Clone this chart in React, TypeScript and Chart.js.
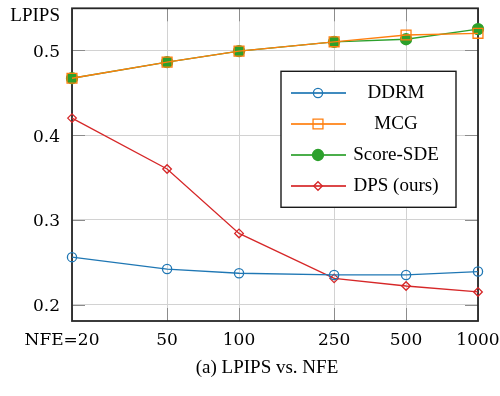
import React, { useEffect, useRef } from 'react';
import { Chart, registerables } from 'chart.js';
import { drawPoint } from 'chart.js/helpers';

Chart.register(...registerables);

const nfe = [20, 50, 100, 250, 500, 1000];
const xTickLabels = ['NFE=20', '50', '100', '250', '500', '1000'];
const yTicks = [0.2, 0.3, 0.4, 0.5];
const yTickLabels = ['0.2', '0.3', '0.4', '0.5'];
const ddrm = [0.256, 0.242, 0.237, 0.235, 0.235, 0.239];
const mcg = [0.467, 0.486, 0.499, 0.51, 0.518, 0.52];
const scoreSde = [0.467, 0.486, 0.499, 0.51, 0.513, 0.525];
const dps = [0.42, 0.36, 0.284, 0.231, 0.222, 0.215];
const seriesNames = ['DDRM', 'MCG', 'Score-SDE', 'DPS (ours)'];
const yLabel = 'LPIPS';
const caption = '(a) LPIPS vs. NFE';

const SERIF = '"Liberation Serif", "Times New Roman", serif';
const TICKFONT = '"DejaVu Serif", serif';

const toPts = (arr: number[]) => nfe.map((x, i) => ({ x, y: arr[i] }));

const decorPlugin = {
  id: 'decor',
  beforeDatasetsDraw(chart: any) {
    const { ctx, chartArea: a, scales } = chart;
    ctx.save();
    // inner tick marks
    ctx.strokeStyle = '#8c8c8c';
    ctx.lineWidth = 1;
    const tl = 13;
    yTicks.forEach((v) => {
      const y = Math.round(scales.y.getPixelForValue(v)) + 0.5;
      ctx.beginPath();
      ctx.moveTo(a.left, y);
      ctx.lineTo(a.left + tl, y);
      ctx.moveTo(a.right - tl, y);
      ctx.lineTo(a.right, y);
      ctx.stroke();
    });
    nfe.forEach((v) => {
      const x = Math.round(scales.x.getPixelForValue(v)) + 0.5;
      ctx.beginPath();
      ctx.moveTo(x, a.top);
      ctx.lineTo(x, a.top + tl);
      ctx.moveTo(x, a.bottom - tl);
      ctx.lineTo(x, a.bottom);
      ctx.stroke();
    });
    // frame
    ctx.strokeStyle = '#262626';
    ctx.lineWidth = 1.8;
    ctx.strokeRect(a.left, a.top, a.right - a.left, a.bottom - a.top);
    ctx.restore();
  },
  afterDatasetsDraw(chart: any) {
    const { ctx, chartArea: a } = chart;
    ctx.save();
    // legend box
    const bx = a.right - 197;
    const by = a.top + 63;
    const bw = 175;
    const bh = 136;
    ctx.fillStyle = '#ffffff';
    ctx.fillRect(bx, by, bw, bh);
    ctx.strokeStyle = '#1a1a1a';
    ctx.lineWidth = 1.4;
    ctx.strokeRect(bx, by, bw, bh);
    chart.data.datasets.forEach((ds: any, i: number) => {
      const ry = by + 21.7 + i * 31;
      ctx.strokeStyle = ds.borderColor;
      ctx.globalAlpha = 0.85;
      ctx.lineWidth = 1.8;
      ctx.beginPath();
      ctx.moveTo(bx + 10, ry);
      ctx.lineTo(bx + 65, ry);
      ctx.stroke();
      ctx.globalAlpha = 1;
      ctx.fillStyle = ds.pointBackgroundColor;
      ctx.strokeStyle = ds.pointBorderColor;
      ctx.lineWidth = ds.pointBorderWidth;
      drawPoint(ctx, { pointStyle: ds.pointStyle, radius: ds.pointRadius, rotation: 0, borderWidth: ds.pointBorderWidth } as any, bx + 37, ry);
      ctx.fillStyle = '#000';
      ctx.font = `19px ${SERIF}`;
      ctx.textAlign = 'center';
      ctx.textBaseline = 'alphabetic';
      ctx.fillText(ds.label, bx + 115, ry + 4.5);
    });
    ctx.restore();
  },
  afterDraw(chart: any) {
    const { ctx, chartArea: a, scales } = chart;
    ctx.save();
    ctx.fillStyle = '#000';
    // x tick labels
    ctx.font = `17px ${TICKFONT}`;
    ctx.textAlign = 'center';
    ctx.textBaseline = 'alphabetic';
    nfe.forEach((v, i) => {
      const x = scales.x.getPixelForValue(v) + (i === 0 ? -10 : 0);
      ctx.fillText(xTickLabels[i], x, a.bottom + 24);
    });
    // y tick labels
    ctx.textAlign = 'right';
    yTicks.forEach((v, i) => {
      const y = scales.y.getPixelForValue(v);
      ctx.fillText(yTickLabels[i], a.left - 12, y + 6.5);
    });
    // y axis label
    ctx.font = `19px ${SERIF}`;
    ctx.textAlign = 'right';
    ctx.fillText(yLabel, a.left - 12, a.top + 13);
    // caption
    ctx.textAlign = 'center';
    ctx.fillText(caption, 267, a.bottom + 52);
    ctx.restore();
  },
};

export default function App() {
  const ref = useRef<HTMLCanvasElement | null>(null);
  useEffect(() => {
    if (!ref.current) return;
    const mk = (label: string, data: number[], color: string, style: string, radius: number, fill: string) => ({
      label,
      data: toPts(data),
      borderColor: color,
      backgroundColor: color,
      borderWidth: 1.3,
      pointStyle: style,
      pointRadius: radius,
      pointHoverRadius: radius,
      pointBorderColor: color,
      pointBackgroundColor: fill,
      pointBorderWidth: 1.3,
      tension: 0,
      clip: false as any,
    });
    const chart = new Chart(ref.current, {
      type: 'line',
      data: {
        datasets: [
          mk(seriesNames[0], ddrm, '#1f77b4', 'circle', 4.6, 'rgba(0,0,0,0)'),
          mk(seriesNames[1], mcg, '#ff7f0e', 'rect', 7, 'rgba(0,0,0,0)'),
          mk(seriesNames[2], scoreSde, '#2ca02c', 'circle', 5.5, '#2ca02c'),
          mk(seriesNames[3], dps, '#d62728', 'rectRot', 4.3, 'rgba(255,255,255,0)'),
        ] as any,
      },
      options: {
        animation: false,
        responsive: false,
        devicePixelRatio: 1,
        layout: { padding: { top: 8, right: 22, left: 0, bottom: 0 } },
        plugins: { legend: { display: false }, tooltip: { enabled: false }, title: { display: false } },
        scales: {
          x: {
            type: 'logarithmic',
            min: 20,
            max: 1000,
            afterBuildTicks: (s: any) => {
              s.ticks = nfe.map((v) => ({ value: v }));
            },
            afterFit: (s: any) => {
              s.height = 75;
            },
            grid: { color: '#d2d2d2', lineWidth: 1, drawTicks: false },
            border: { display: false },
            ticks: { display: false },
          },
          y: {
            type: 'linear',
            min: 0.1807,
            max: 0.5495,
            afterBuildTicks: (s: any) => {
              s.ticks = yTicks.map((v) => ({ value: v }));
            },
            afterFit: (s: any) => {
              s.width = 72;
            },
            grid: { color: '#d2d2d2', lineWidth: 1, drawTicks: false },
            border: { display: false },
            ticks: { display: false },
          },
        },
      } as any,
      plugins: [decorPlugin],
    });
    return () => chart.destroy();
  }, []);
  return (
    <div style={{ position: 'fixed', left: 0, top: 0, width: 500, height: 396, background: '#fff' }}>
      <canvas ref={ref} width={500} height={396} style={{ display: 'block' }} />
    </div>
  );
}
